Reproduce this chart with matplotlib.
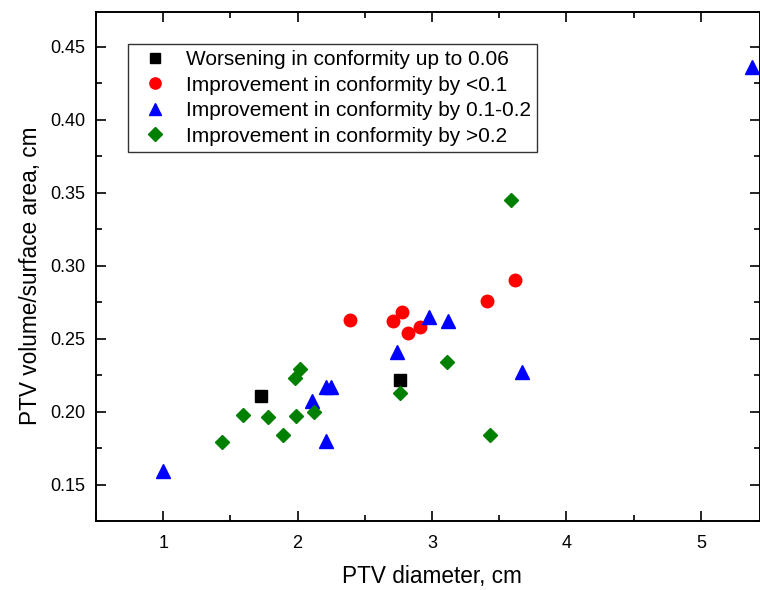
import numpy as np
import matplotlib
matplotlib.use('Agg')
import matplotlib.pyplot as plt
from matplotlib.ticker import MultipleLocator

plt.rcParams['font.family'] = ['Liberation Sans', 'DejaVu Sans']

# data
worse_x = [1.73, 2.76]
worse_y = [0.211, 0.222]

imp_lt01_x = [2.39, 2.71, 2.78, 2.82, 2.91, 3.41, 3.62]
imp_lt01_y = [0.263, 0.262, 0.268, 0.254, 0.258, 0.276, 0.290]

imp_01_02_x = [1.00, 2.11, 2.21, 2.21, 2.25, 2.74, 2.98, 3.12, 3.67, 5.38]
imp_01_02_y = [0.159, 0.207, 0.180, 0.217, 0.217, 0.241, 0.265, 0.262, 0.227, 0.436]

imp_gt02_x = [1.44, 1.59, 1.78, 1.89, 1.98, 2.02, 1.99, 2.12, 2.76, 3.11, 3.43, 3.59]
imp_gt02_y = [0.179, 0.198, 0.196, 0.184, 0.223, 0.229, 0.197, 0.200, 0.213, 0.234, 0.184, 0.345]

labels = ['Worsening in conformity up to 0.06',
          'Improvement in conformity by <0.1',
          'Improvement in conformity by 0.1-0.2',
          'Improvement in conformity by >0.2']

fig = plt.figure(figsize=(7.6, 5.9), dpi=100)
ax = fig.add_axes([0.1263, 0.1169, 0.8737, 0.8628])

ax.plot(worse_x, worse_y, 's', color='black', ms=8, ls='none', label=labels[0], clip_on=False)
ax.plot(imp_lt01_x, imp_lt01_y, 'o', color='red', ms=9, ls='none', label=labels[1], clip_on=False)
ax.plot(imp_01_02_x, imp_01_02_y, '^', color='blue', ms=9.5, ls='none', label=labels[2])
ax.plot(imp_gt02_x, imp_gt02_y, 'D', color='green', ms=7.5, ls='none', label=labels[3], clip_on=False)

ax.set_xlim(0.5, 5.44)
ax.set_ylim(0.125, 0.474)
ax.xaxis.set_major_locator(MultipleLocator(1))
ax.xaxis.set_minor_locator(MultipleLocator(0.5))
ax.yaxis.set_major_locator(MultipleLocator(0.05))
ax.yaxis.set_minor_locator(MultipleLocator(0.025))
ax.yaxis.set_major_formatter(matplotlib.ticker.FormatStrFormatter('%.2f'))
ax.tick_params(which='both', direction='in', top=True, right=True, labelsize=13, width=1.2)
ax.tick_params(which='major', length=7)
ax.tick_params(axis='x', which='major', pad=10)
ax.tick_params(axis='y', which='major', pad=8)
ax.tick_params(which='minor', length=4)
for s in ax.spines.values():
    s.set_linewidth(1.4)

ax.set_xlabel('PTV diameter, cm', fontsize=16.3)
ax.set_ylabel('PTV volume/surface area, cm', fontsize=16.3)
ax.xaxis.set_label_coords(0.506, -0.0864)
ax.yaxis.set_label_coords(-0.0813, 0.481)

leg = ax.legend(loc='upper left', bbox_to_anchor=(0.048, 0.937), borderaxespad=0,
                fontsize=15, frameon=True, fancybox=False, edgecolor='black',
                handletextpad=0.5, labelspacing=0.31, borderpad=0.3, markerscale=0.9)
leg.get_frame().set_linewidth(1.0)

fig.savefig('out.png', dpi=100)
